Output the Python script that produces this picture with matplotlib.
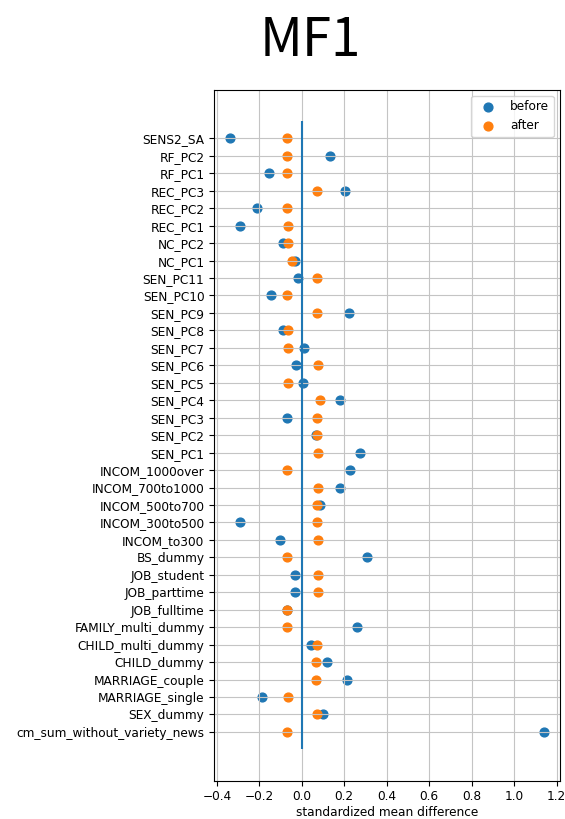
import matplotlib
matplotlib.use("Agg")
import matplotlib.pyplot as plt

# covariates, listed bottom to top
covariates = [
    "cm_sum_without_variety_news", "SEX_dummy", "MARRIAGE_single", "MARRIAGE_couple",
    "CHILD_dummy", "CHILD_multi_dummy", "FAMILY_multi_dummy", "JOB_fulltime",
    "JOB_parttime", "JOB_student", "BS_dummy", "INCOM_to300", "INCOM_300to500",
    "INCOM_500to700", "INCOM_700to1000", "INCOM_1000over", "SEN_PC1", "SEN_PC2",
    "SEN_PC3", "SEN_PC4", "SEN_PC5", "SEN_PC6", "SEN_PC7", "SEN_PC8", "SEN_PC9",
    "SEN_PC10", "SEN_PC11", "NC_PC1", "NC_PC2", "REC_PC1", "REC_PC2", "REC_PC3",
    "RF_PC1", "RF_PC2", "SENS2_SA",
]

smd_before = [
    1.142, 0.100, -0.189, 0.212,
    0.119, 0.042, 0.259, -0.072,
    -0.031, -0.034, 0.305, -0.102, -0.292,
    0.088, 0.180, 0.225, 0.275, 0.066,
    -0.070, 0.180, 0.006, -0.028, 0.011, -0.089, 0.222,
    -0.144, -0.017, -0.034, -0.089, -0.292, -0.209, 0.202,
    -0.155, 0.133, -0.339,
]

smd_after = [
    -0.070, 0.072, -0.066, 0.069,
    0.069, 0.073, -0.070, -0.070,
    0.077, 0.077, -0.070, 0.077, 0.072,
    0.072, 0.077, -0.070, 0.075, 0.072,
    0.070, 0.086, -0.066, 0.075, -0.063, -0.067, 0.070,
    -0.070, 0.070, -0.044, -0.067, -0.063, -0.070, 0.070,
    -0.070, -0.070, -0.070,
]

plt.rcParams["font.size"] = 8.7

fig = plt.figure(figsize=(5.65, 8.19), dpi=100)
ax = fig.add_axes([0.379, 0.0467, 0.612, 0.844])

ax.scatter(smd_before, covariates, s=40, label="before")
ax.scatter(smd_after, covariates, s=40, label="after")
ax.vlines(0, -1, len(covariates))
ax.set_xlabel("standardized mean difference", labelpad=1.5)
ax.grid(True, color="#c4c4c4")
ax.legend(loc="upper right")

fig.text(310 / 565, 1 - 55.7 / 819, "MF1", fontsize=38,
         family=["Noto Sans CJK JP", "DejaVu Sans"],
         ha="center", va="baseline")

fig.savefig("out.png", dpi=100)
